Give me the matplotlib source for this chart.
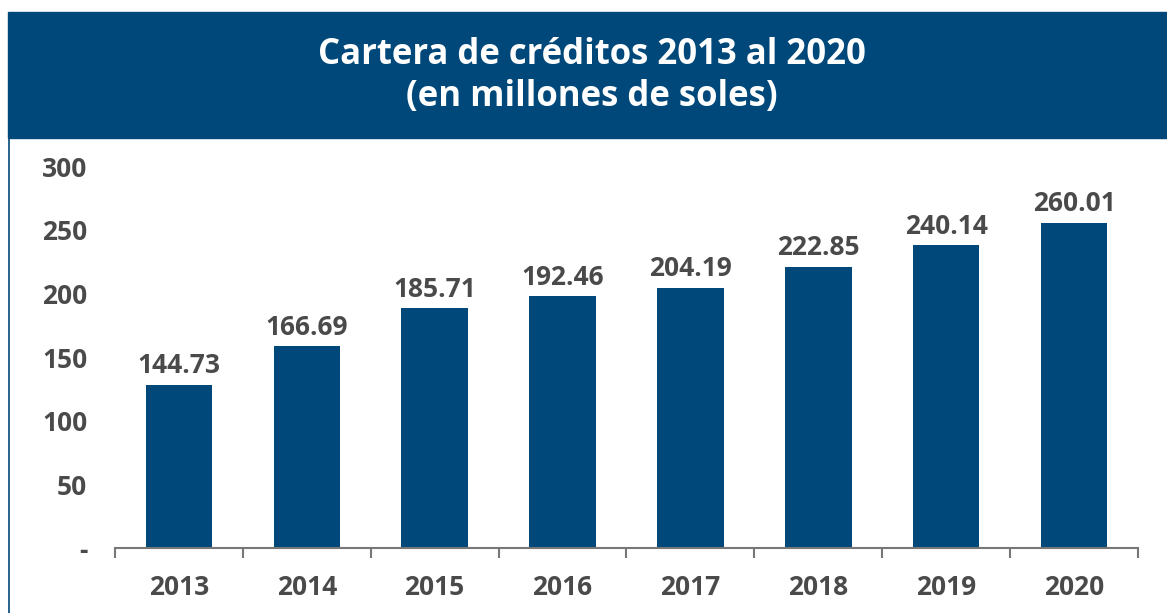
import matplotlib.pyplot as plt
from matplotlib.patches import Rectangle
from matplotlib.lines import Line2D

# data
years = ['2013', '2014', '2015', '2016', '2017', '2018', '2019', '2020']
bar_heights = [128.4, 158.5, 188.2, 197.6, 204.6, 221.1, 237.7, 255.7]
value_labels = ['144.73', '166.69', '185.71', '192.46', '204.19', '222.85', '240.14', '260.01']
yticks = [0, 50, 100, 150, 200, 250, 300]
ytick_labels = ['-', '50', '100', '150', '200', '250', '300']

navy = '#00487a'
grey = '#4a4a4a'
plt.rcParams['font.family'] = ['Open Sans', 'DejaVu Sans']

fig = plt.figure(figsize=(11.67, 6.13), dpi=100)

# header band
fig.patches.append(Rectangle((0.0069, 0.775), 1.0, 0.206, transform=fig.transFigure,
                             color=navy, zorder=0))
fig.lines.append(Line2D([0.0075, 0.0075], [0, 0.776], transform=fig.transFigure,
                        color=navy, lw=1.2))
fig.text(0.507, 0.876, 'Cartera de créditos 2013 al 2020\n(en millones de soles)',
         ha='center', va='center', color='white', fontsize=25, fontweight='bold',
         linespacing=1.25)

ax = fig.add_axes([0.0985, 0.106, 0.8766, 0.623])
x = range(len(years))
bars = ax.bar(x, bar_heights, width=0.52, color=navy)
for b, lab in zip(bars, value_labels):
    ax.annotate(lab, (b.get_x() + b.get_width() / 2, b.get_height()),
                xytext=(0, 4), textcoords='offset points', ha='center', va='bottom',
                fontsize=19, fontweight='bold', color=grey)

ax.set_xlim(-0.5, len(years) - 0.5)
ax.set_ylim(0, 300)
ax.set_yticks(yticks)
ax.set_yticklabels(ytick_labels)
ax.set_xticks(list(x))
ax.set_xticklabels(years)
ax.set_xticks([i - 0.5 for i in range(len(years) + 1)], minor=True)
ax.tick_params(axis='x', which='major', length=0, pad=19, labelsize=19, labelcolor=grey)
ax.tick_params(axis='x', which='minor', length=7, width=1.5, color='#777777', direction='out')
ax.tick_params(axis='y', length=0, pad=20, labelsize=19, labelcolor=grey)
for lab in ax.get_xticklabels() + ax.get_yticklabels():
    lab.set_fontweight('bold')

for s in ['top', 'right', 'left']:
    ax.spines[s].set_visible(False)
ax.spines['bottom'].set_color('#777777')
ax.spines['bottom'].set_linewidth(1.5)

fig.savefig('out.png', dpi=100)
